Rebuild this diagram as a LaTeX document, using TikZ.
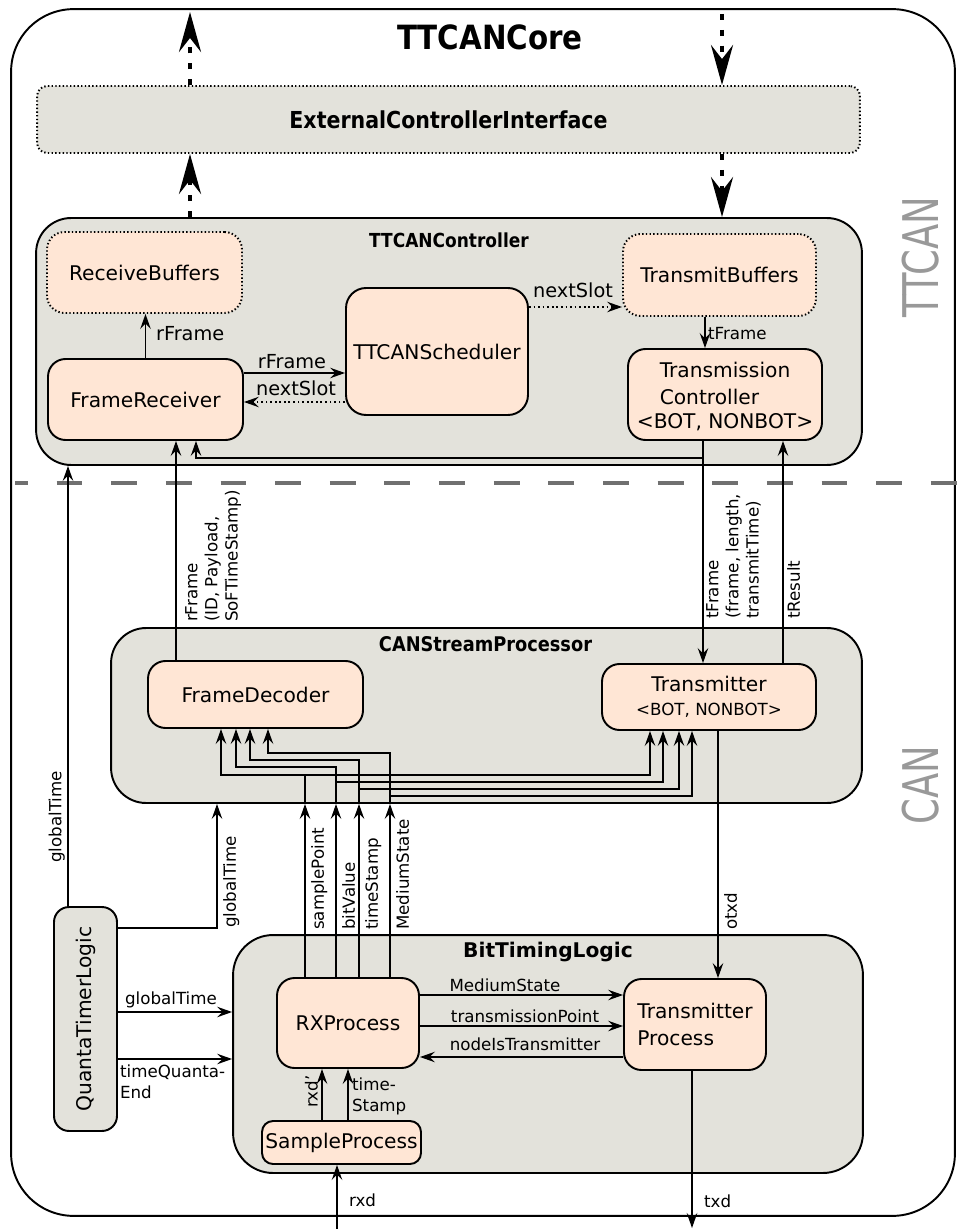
\documentclass[tikz,border=0pt]{standalone}
\usepackage{fontspec}
\setmainfont{DejaVu Sans}
\usetikzlibrary{positioning,arrows.meta,calc}
\definecolor{boxgray}{RGB}{227,226,219}
\definecolor{procfill}{RGB}{255,230,213}
\definecolor{sepgray}{RGB}{112,112,112}
\definecolor{layergray}{RGB}{153,153,153}
\newcommand{\nodefont}{\fontsize{11.5}{15.5}\selectfont}
\newcommand{\sigfont}{\fontsize{9.5}{11.5}\selectfont}
\newcommand{\ctlfont}{\fontsize{11}{13}\selectfont}
\newcommand{\condtitle}[1]{\scalebox{0.88}[1]{#1}}
\tikzset{
  corebox/.style={rectangle,rounded corners=1.25cm,draw=black,line width=1.1pt,fill=white,inner sep=0pt},
  layerbox/.style={rectangle,rounded corners=0.7cm,draw=black,line width=1.1pt,fill=boxgray,inner sep=0pt},
  procbox/.style={rectangle,rounded corners=0.35cm,draw=black,line width=1.1pt,fill=procfill,align=center,inner sep=0pt,font=\nodefont},
  bufbox/.style={procbox,dash pattern=on 0.8pt off 1.3pt},
  boxtitle/.style={inner sep=0pt},
  sig/.style={-{Stealth[length=3mm,width=2.1mm,inset=1.1mm]},line width=0.9pt},
  dotsig/.style={sig,dash pattern=on 1pt off 1.6pt},
  bigsig/.style={-{Stealth[length=8mm,width=4.4mm,inset=2.8mm]},line width=2.4pt,dash pattern=on 3.5pt off 5.5pt},
  siglabel/.style={font=\sigfont,inner sep=1pt},
  ctllabel/.style={font=\ctlfont,inner sep=1pt},
  vlabel/.style={siglabel,rotate=90,align=left},
  layerlabel/.style={rotate=90,text=layergray,font=\fontsize{28}{30}\selectfont,inner sep=0pt},
  layersep/.style={draw=sepgray,line width=2.3pt,dash pattern=on 14.7pt off 16.4pt,dash phase=7.4pt}
}
\begin{document}
\begin{tikzpicture}[x=0.02cm,y=-0.02cm]
\useasboundingbox (0,0) rectangle (957,1229);

% core frame
\node[corebox,minimum width=18.88cm,minimum height=24.14cm] (core) at (483,612.5) {};
\node[boxtitle,font=\bfseries\fontsize{19}{21}\selectfont] (coretitle) at (490,37) {\condtitle{TTCANCore}};

% layers
\coordinate (sepL) at (15,483);
\coordinate (sepR) at (957,483);
\draw[layersep] (sepL) -- (sepR);
\node[layerlabel] (ttcanlbl) at (921,257) {\scalebox{0.75}[1]{TTCAN}};
\node[layerlabel] (canlbl) at (921,785) {\scalebox{0.75}[1]{CAN}};

% containers
\node[layerbox,rounded corners=0.2cm,dash pattern=on 0.8pt off 1.3pt,minimum width=16.46cm,minimum height=1.34cm,font=\bfseries\fontsize{13.3}{15}\selectfont] (eci) at (448.5,119.5) {\condtitle{ExternalControllerInterface}};
\node[layerbox,minimum width=16.52cm,minimum height=4.94cm] (ctl) at (449,341.5) {};
\node[boxtitle,font=\bfseries\fontsize{11}{13}\selectfont] (ctltitle) at (449,240) {\condtitle{TTCANController}};
\node[layerbox,minimum width=15.02cm,minimum height=3.5cm] (csp) at (486.5,715.5) {};
\node[boxtitle,font=\bfseries\fontsize{11.5}{13}\selectfont] (csptitle) at (485.5,644) {\condtitle{CANStreamProcessor}};
\node[layerbox,rounded corners=0.8cm,minimum width=12.6cm,minimum height=4.76cm] (btl) at (548,1054) {};
\node[boxtitle,font=\bfseries\fontsize{11.5}{13}\selectfont] (btltitle) at (548,952) {BitTimingLogic};
\node[layerbox,rounded corners=0.3cm,minimum width=1.26cm,minimum height=4.48cm,font=\nodefont] (qtl) at (85.5,1019) {\rotatebox{90}{QuantaTimerLogic}};

% TTCAN processes
\node[bufbox,minimum width=3.9cm,minimum height=1.62cm] (rxbuf) at (144.5,272.5) {ReceiveBuffers};
\node[procbox,minimum width=3.9cm,minimum height=1.62cm] (frecv) at (145.5,399.5) {FrameReceiver};
\node[procbox,rounded corners=0.4cm,minimum width=3.64cm,minimum height=2.54cm] (sched) at (437,351.5) {TTCANScheduler};
\node[bufbox,minimum width=3.86cm,minimum height=1.64cm] (txbuf) at (719.5,275) {TransmitBuffers};
\node[procbox,minimum width=3.88cm,minimum height=1.82cm] (txctl) at (725,394.5)
  {\begin{tabular}{@{}l@{}}Transmission\\Controller\end{tabular}\\[-1pt]<BOT, NONBOT>};

% CAN processes
\node[procbox,minimum width=4.3cm,minimum height=1.34cm] (fdec) at (255.5,694.5) {FrameDecoder};
\node[procbox,minimum width=4.28cm,minimum height=1.32cm] (tmit) at (709,697)
  {Transmitter\\[-2pt]{\sigfont <BOT, NONBOT>}};
\node[procbox,minimum width=2.84cm,minimum height=1.8cm] (rxp) at (348,1023) {RXProcess};
\node[procbox,rounded corners=0.22cm,minimum width=3.18cm,minimum height=0.86cm] (smp) at (341.5,1142.5) {SampleProcess};
\node[procbox,align=left,minimum width=2.84cm,minimum height=1.82cm] (txp) at (695,1024.5) {Transmitter\\Process};

% external interface links
\coordinate (upL) at (190,12);
\coordinate (downR) at (722,14);
\draw[bigsig] (upL |- eci.north) -- (upL);
\draw[bigsig] (downR) -- (downR |- eci.north);
\draw[bigsig] (upL |- ctl.north) -- (upL |- eci.south);
\draw[bigsig] (downR |- eci.south) -- (downR |- ctl.north);

% inside TTCANController
\draw[sig] (frecv.north) -- (frecv.north |- rxbuf.south);
\node[ctllabel,anchor=base west] (lblrf1) at (154,341) {rFrame};
\draw[sig] (frecv.east |- 0,373) -- (sched.west |- 0,373);
\node[ctllabel,anchor=base] (lblrf2) at (292,369) {rFrame};
\draw[dotsig] (sched.west |- 0,402) -- (frecv.east |- 0,402);
\node[ctllabel,anchor=base] (lblns1) at (296,396) {nextSlot};
\draw[dotsig] (sched.east |- 0,307) -- (txbuf.west |- 0,307);
\node[ctllabel,anchor=base] (lblns2) at (573,298) {nextSlot};
\draw[sig] (txbuf.south -| 705,0) -- (txctl.north -| 705,0);
\node[siglabel,anchor=west] (lbltf1) at (706,334) {tFrame};

% TTCAN <-> CAN
\coordinate (tfj) at (703,458);
\draw[sig] (txctl.south -| tfj) -- (tmit.north -| tfj);
\draw[sig] (tfj) -| (frecv.south -| 196,0);
\node[vlabel,anchor=north west] (lbltf2) at (704,621) {tFrame\\(frame, length,\\transmitTime)};
\draw[sig] (tmit.north -| 783,0) -- (txctl.south -| 783,0);
\node[vlabel,anchor=north west] (lbltr) at (785,621) {tResult};
\draw[sig] (fdec.north -| 176,0) -- (frecv.south -| 176,0);
\node[vlabel,anchor=north west] (lblrf3) at (183,624) {rFrame\\(ID, Payload,\\SoFTimeStamp)};
\draw[sig] (qtl.north -| 68,0) -- (ctl.south -| 68,0);
\node[vlabel,anchor=south west] (lblgt1) at (67,865) {globalTime};
\draw[sig] (qtl.east |- 0,928) -| (csp.south -| 217,0);
\node[vlabel,anchor=north west] (lblgt2) at (221,930) {globalTime};

% RXProcess -> CANStreamProcessor bus
\foreach \bx/\lbl in {305/samplePoint,336/bitValue,359/timeStamp,390/MediumState}{
  \draw[sig] (rxp.north -| \bx,0) -- (csp.south -| \bx,0);
  \node[vlabel,anchor=north west] (bus\bx) at (\bx+4,932) {\lbl};
}
\foreach \bx/\fy/\fx/\ty/\tx in {305/775/221/775/650,336/767/236/782/663,359/760/250/789/679,390/753/268/796/692}{
  \draw[sig] (csp.south -| \bx,0) -- (\bx,\fy) -| (fdec.south -| \fx,0);
  \draw[sig] (\bx,\ty) -| (tmit.south -| \tx,0);
}
\draw[sig] (tmit.south -| 718,0) -- (txp.north -| 718,0);
\node[vlabel,anchor=north west] (lblotxd) at (722,932) {otxd};

% inside BitTimingLogic
\draw[sig] (rxp.east |- 0,995) -- (txp.west |- 0,995);
\node[siglabel,anchor=base] (lblms) at (505,991) {MediumState};
\draw[sig] (rxp.east |- 0,1026) -- (txp.west |- 0,1026);
\node[siglabel,anchor=base] (lbltp) at (525,1022) {transmissionPoint};
\draw[sig] (txp.west |- 0,1057) -- (rxp.east |- 0,1057);
\node[siglabel,anchor=base] (lblnit) at (525,1050) {nodeIsTransmitter};
\draw[sig] (smp.north -| 322,0) -- (rxp.south -| 322,0);
\node[vlabel,anchor=south west] (lblrxdp) at (320,1110) {rxd'};
\draw[sig] (smp.north -| 348,0) -- (rxp.south -| 348,0);
\node[siglabel,anchor=north west,align=left] (lblts) at (350,1076) {time-\\Stamp};

% QuantaTimerLogic -> BitTimingLogic
\draw[sig] (qtl.east |- 0,1012) -- (btl.west |- 0,1012);
\node[siglabel,anchor=base] (lblgt3) at (171,1004) {globalTime};
\draw[sig] (qtl.east |- 0,1059) -- (btl.west |- 0,1059);
\node[siglabel,anchor=north west,align=left] (lbltq) at (118,1063) {timeQuanta-\\End};

% pins
\coordinate (rxdin) at (337,1229);
\coordinate (txdout) at (692,1228);
\draw[sig] (rxdin) -- (smp.south -| rxdin);
\node[siglabel,anchor=base west] (lblrxd) at (347,1206) {rxd};
\draw[sig] (txp.south -| txdout) -- (txdout);
\node[siglabel,anchor=base west] (lbltxd) at (702,1207) {txd};
\end{tikzpicture}
\end{document}
